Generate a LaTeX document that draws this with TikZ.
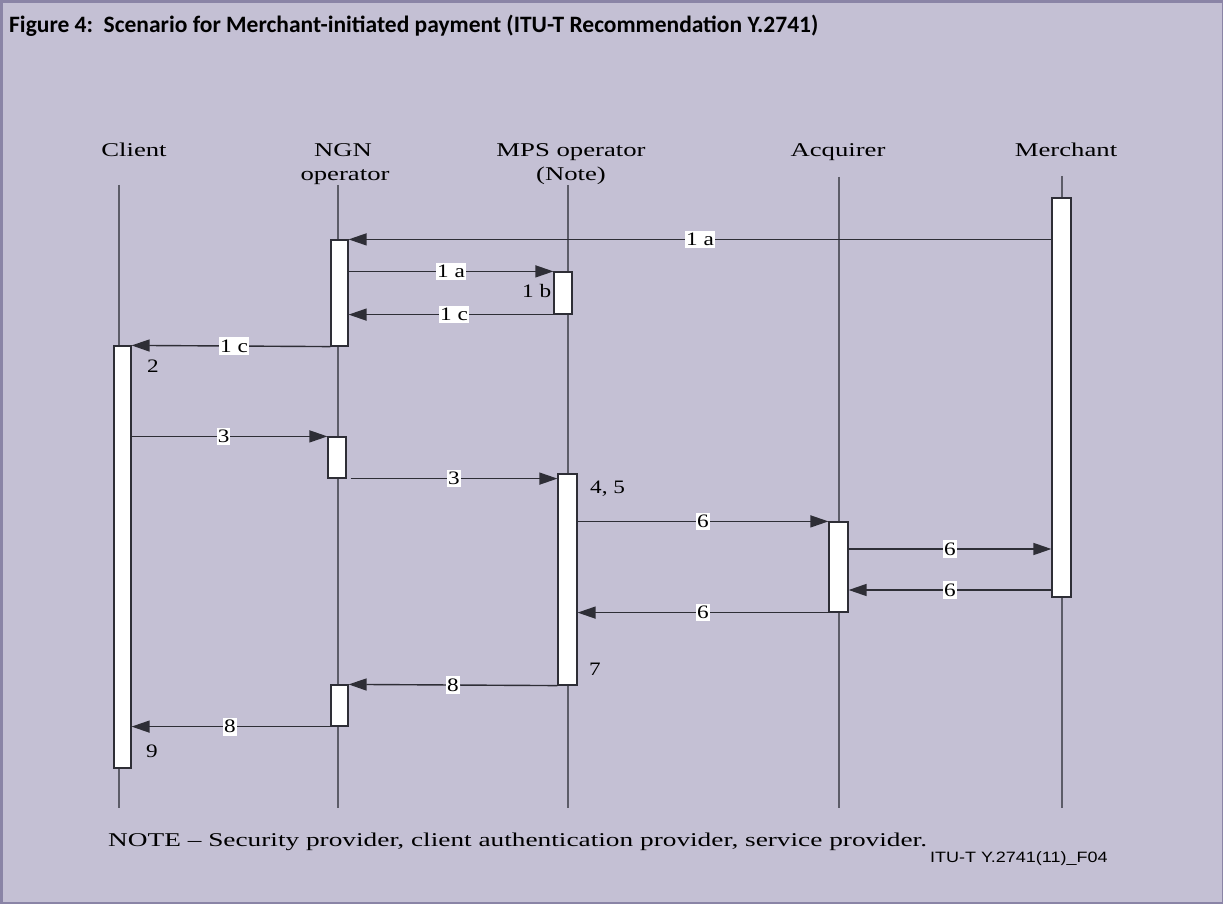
\documentclass[tikz,border=0pt]{standalone}
\usepackage{fontspec}
\setmainfont{Liberation Serif}
\newfontfamily\titlefont{Carlito}
\newfontfamily\codefont{Liberation Sans}
\usetikzlibrary{arrows.meta}
\definecolor{paper}{HTML}{C4C0D4}
\definecolor{frame}{HTML}{8A84A6}
\definecolor{lifegray}{HTML}{5C5C68}
\definecolor{ink}{HTML}{2E2E36}
% serif text in this figure is set wide
\newcommand{\widetext}[1]{\scalebox{1.37}[1]{#1}}
\newcommand{\numtext}[1]{\scalebox{1.22}[1]{#1}}
\begin{document}
\begin{tikzpicture}[x=1pt,y=-1pt,
  lifeline/.style={draw=lifegray, line width=1.3pt},
  actbox/.style={rectangle, draw=ink, fill=white, line width=1.2pt, inner sep=0pt},
  msg/.style={draw=ink, line width=1.4pt, -{Triangle[length=18pt,width=12pt]}},
  lbl/.style={fill=white, inner xsep=1pt, inner ysep=2.5pt, font=\fontsize{19}{20}\selectfont},
  head/.style={font=\fontsize{19.5}{22}\selectfont, anchor=base},
  num/.style={font=\fontsize{19}{20}\selectfont, anchor=base west, inner sep=0pt},
]
% background and frame
\fill[paper] (0,0) rectangle (1223,904);
\useasboundingbox (0,0) rectangle (1223,904);
\fill[frame] (0,0) rectangle (1223,3.5);
\fill[frame] (0,0) rectangle (3,904);
\fill[frame] (0,901.5) rectangle (1223,904);
\fill[frame] (1221.5,0) rectangle (1223,904);

% title
\node[anchor=base west, inner sep=0pt, font=\titlefont\bfseries\fontsize{23.5}{26}\selectfont] (title) at (9,33)
  {Figure 4:\ \ Scenario for Merchant-initiated payment (ITU-T Recommendation Y.2741)};

% headers
\node[head] (hclient) at (134,157) {\widetext{Client}};
\node[head] (hngn1) at (343,157) {\widetext{NGN}};
\node[head] (hngn2) at (345,181) {\widetext{operator}};
\node[head] (hmps1) at (571,157) {\widetext{MPS operator}};
\node[head] (hmps2) at (571,181) {\widetext{(Note)}};
\node[head] (hacq) at (838,157) {\widetext{Acquirer}};
\node[head] (hmer) at (1066,157) {\widetext{Merchant}};

% lifelines
\coordinate (lc1) at (119,185);  \coordinate (lc2) at (119,808);
\coordinate (ln1) at (338,185);  \coordinate (ln2) at (338,808);
\coordinate (lm1) at (568,185);  \coordinate (lm2) at (568,808);
\coordinate (la1) at (839,177);  \coordinate (la2) at (839,808);
\coordinate (lr1) at (1062,176); \coordinate (lr2) at (1062,808);
\draw[lifeline] (lc1) -- (lc2);
\draw[lifeline] (ln1) -- (ln2);
\draw[lifeline] (lm1) -- (lm2);
\draw[lifeline] (la1) -- (la2);
\draw[lifeline] (lr1) -- (lr2);

% activation boxes
\node[actbox, minimum width=17pt, minimum height=422pt] (client) at (122.5,557) {};
\node[actbox, minimum width=17pt, minimum height=106pt] (ngn1) at (339.5,293) {};
\node[actbox, minimum width=18pt, minimum height=41pt]  (ngn2) at (337,457.5) {};
\node[actbox, minimum width=17pt, minimum height=41pt]  (ngn3) at (339.5,705.5) {};
\node[actbox, minimum width=18pt, minimum height=42pt]  (mps1) at (563,293) {};
\node[actbox, minimum width=19pt, minimum height=211pt] (mps2) at (567.5,579.5) {};
\node[actbox, minimum width=19pt, minimum height=90pt]  (acq)  at (838.5,567) {};
\node[actbox, minimum width=19pt, minimum height=399pt] (merch) at (1061.5,397.5) {};

% messages
\draw[msg] (merch.west |- ngn1.north east) -- node[lbl] {\numtext{1 a}} (ngn1.north east);
\draw[msg] (ngn1.east |- mps1.north west) -- node[lbl] {\numtext{1 a}} (mps1.north west);
\draw[msg] (mps1.south west) -- node[lbl, pos=0.485] {\numtext{1 c}} (ngn1.east |- mps1.south west);
\draw[msg] (ngn1.south west) -- node[lbl, pos=0.485] {\numtext{1 c}} (client.north east);
\draw[msg] (client.east |- ngn2.north west) -- node[lbl, pos=0.47] {\numtext{3}} (ngn2.north west);
\draw[msg] ([xshift=4pt]ngn2.south east) -- node[lbl] {\numtext{3}} (mps2.west |- ngn2.south east);
\draw[msg] (mps2.east |- acq.north west) -- node[lbl] {\numtext{6}} (acq.north west);
\draw[msg] (acq.east |- 0,549) -- node[lbl] {\numtext{6}} (merch.west |- 0,549);
\draw[msg] (merch.west |- 0,590) -- node[lbl] {\numtext{6}} (acq.east |- 0,590);
\draw[msg] (acq.south west) -- node[lbl] {\numtext{6}} (mps2.east |- acq.south west);
\draw[msg] (mps2.south west) -- node[lbl] {\numtext{8}} (ngn3.north east);
\draw[msg] (ngn3.south west) -- node[lbl, pos=0.505] {\numtext{8}} (client.east |- ngn3.south west);

% step numbers
\node[num] (n2)  at (147,372) {\numtext{2}};
\node[num] (n1b) at (522,297) {\numtext{1 b}};
\node[num] (n45) at (590,493) {\numtext{4, 5}};
\node[num] (n7)  at (589,675) {\numtext{7}};
\node[num] (n9)  at (146,757) {\numtext{9}};

% note and figure code
\node[anchor=base west, inner sep=0pt, font=\fontsize{19.5}{22}\selectfont] (note) at (108,846)
  {\scalebox{1.4}[1]{NOTE -- Security provider, client authentication provider, service provider.}};
\node[anchor=base west, inner sep=0pt, font=\codefont\fontsize{15}{16}\selectfont] (code) at (930,862)
  {\scalebox{1.2}[1]{ITU-T Y.2741(11)\_F04}};
\end{tikzpicture}
\end{document}
